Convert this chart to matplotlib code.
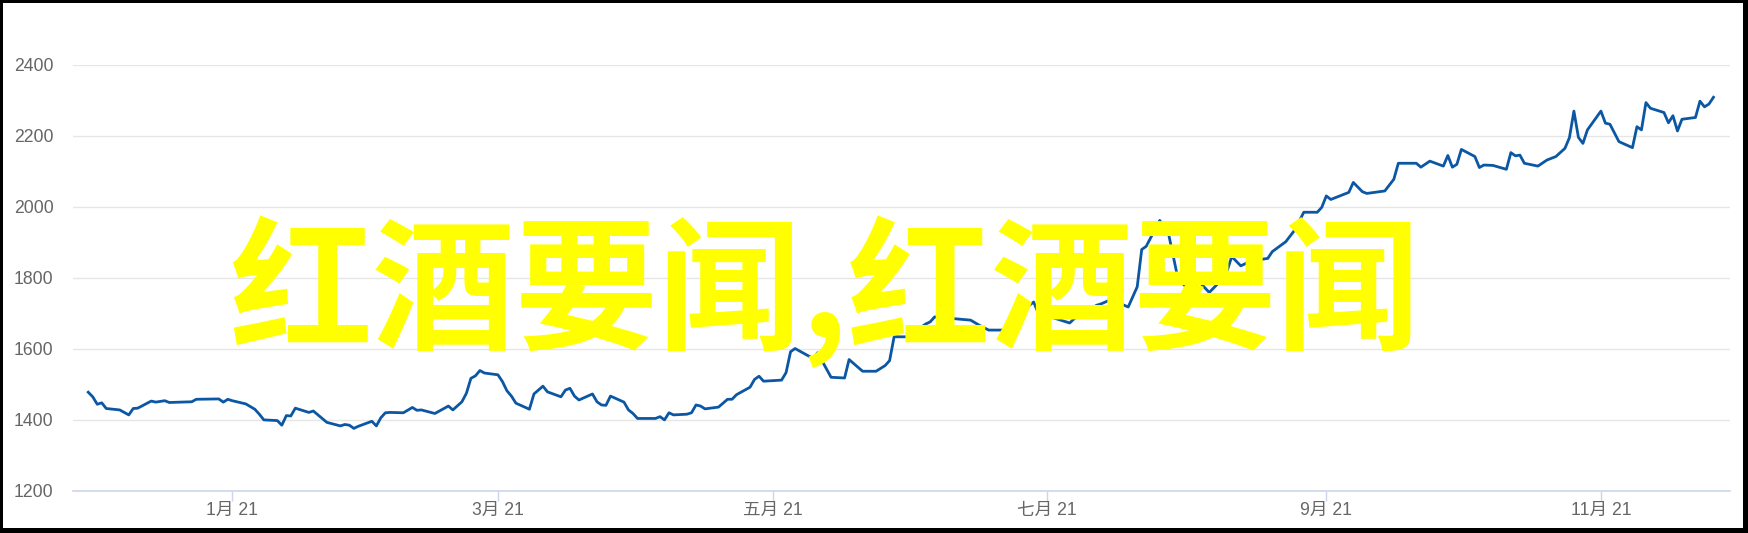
import matplotlib
matplotlib.use("Agg")
import matplotlib.pyplot as plt
from matplotlib.patches import Rectangle
import pandas as pd

# ---- data ----
# trading days, given as day offsets from 2021-01-01
day_offsets = [
    -32, -31, -30, -29, -28, -25, -24, -23, -22, -21, -18, -17, -15, -14, -9, -8,
    -3, -2, -1, 0, 3, 5, 6, 7, 10, 11, 12, 13, 14, 17, 18, 21, 24, 25, 26, 27, 28,
    31, 32, 33, 34, 35, 38, 40, 41, 42, 45, 48, 49, 51, 52, 53, 54, 55, 56, 59, 60,
    61, 62, 63, 66, 67, 69, 70, 73, 74, 75, 76, 77, 80, 81, 82, 83, 84, 87, 88, 89,
    90, 94, 95, 96, 97, 98, 101, 102, 103, 104, 105, 108, 110, 111, 112, 115, 116,
    117, 118, 122, 123, 124, 125, 129, 130, 133, 136, 137, 140, 143, 145, 146, 147,
    150, 154, 155, 156, 164, 166, 168, 171, 173, 176, 178, 179, 181, 183, 186, 187,
    189, 192, 193, 195, 197, 199, 201, 202, 203, 206, 208, 210, 212, 215, 217, 219,
    221, 222, 224, 226, 228, 230, 231, 234, 236, 238, 241, 242, 243, 244, 248, 249,
    251, 252, 256, 258, 259, 263, 264, 266, 269, 270, 271, 272, 273, 276, 277, 278,
    280, 283, 284, 285, 286, 287, 290, 292, 294, 296, 297, 298, 299, 300, 301, 304,
    305, 306, 308, 311, 312, 313, 314, 315, 318, 319, 320, 321, 322, 325, 326, 327,
    328, 329,
]
values = [
    1477, 1464, 1443, 1447, 1431, 1427, 1420, 1413, 1431, 1432, 1452, 1449, 1453, 1448, 1450, 1457,
    1458, 1449, 1457, 1453, 1444, 1429, 1415, 1399, 1397, 1384, 1411, 1410, 1432, 1420, 1424, 1392, 1382, 1386, 1384, 1375, 1381,
    1395, 1382, 1405, 1419, 1420, 1419, 1434, 1426, 1427, 1417, 1438, 1427, 1450, 1474, 1516, 1523, 1538, 1531, 1526, 1507,
    1481, 1466, 1446, 1429, 1472, 1494, 1478, 1464, 1483, 1488, 1466, 1455, 1472, 1450, 1441, 1440, 1466, 1449, 1427, 1417,
    1403, 1403, 1408, 1399, 1419, 1413, 1415, 1419, 1441, 1438, 1430, 1435, 1457, 1457, 1470, 1491, 1513,
    1522, 1508, 1511, 1532, 1591, 1600, 1572, 1588, 1519, 1517, 1569, 1536, 1536, 1552, 1566, 1633,
    1633, 1669, 1675, 1689, 1680, 1665, 1652, 1652, 1662, 1712, 1731, 1700, 1692, 1684, 1672, 1684,
    1700, 1722, 1726, 1737, 1728, 1717, 1774, 1879, 1888, 1961, 1921, 1800, 1771, 1785, 1758, 1784,
    1820, 1859, 1833, 1845, 1850, 1854, 1873, 1901, 1934, 1984, 1984, 1998, 2030, 2020, 2040, 2068,
    2042, 2037, 2044, 2077, 2122, 2122, 2111, 2128, 2114, 2144, 2111, 2119, 2161, 2141, 2110, 2117,
    2116, 2105, 2152, 2143, 2145, 2122, 2114, 2131, 2141, 2164, 2194, 2269, 2195, 2178, 2216, 2269,
    2235, 2232, 2183, 2166, 2225, 2216, 2293, 2277, 2265, 2236, 2256, 2213, 2246, 2251, 2297, 2281,
    2289, 2308,
]
tick_dates = ["2021-01-01", "2021-03-01", "2021-05-01", "2021-07-01", "2021-09-01", "2021-11-01"]
tick_labels = ["1月 21", "3月 21", "五月 21", "七月 21", "9月 21", "11月 21"]
y_ticks = [1200, 1400, 1600, 1800, 2000, 2200, 2400]
overlay_text = "红酒要闻,红酒要闻"

origin = pd.Timestamp("2021-01-01")
dates = origin + pd.to_timedelta(day_offsets, unit="D")

# ---- figure ----
W, H = 1748, 533
fig = plt.figure(figsize=(W / 100, H / 100), dpi=100)
fig.patch.set_facecolor("white")

ax_l, ax_r, ax_t, ax_b = 72.7, 1730, 64.6, 490.5
ax = fig.add_axes([ax_l / W, 1 - ax_b / H, (ax_r - ax_l) / W, (ax_b - ax_t) / H])
ax.set_facecolor("white")

ax.plot(dates, values, color="#0b57a4", lw=2.0, zorder=3, solid_joinstyle="round")

ax.set_ylim(1200, 2400)
ax.set_xlim(origin + pd.Timedelta(days=-35.45), origin + pd.Timedelta(days=332.67))

ax.set_yticks(y_ticks)
ax.set_yticklabels([str(v) for v in y_ticks])
ax.set_xticks(pd.to_datetime(tick_dates))
ax.set_xticklabels(tick_labels)

tick_font = ["Liberation Sans", "Noto Sans CJK SC", "DejaVu Sans"]
for lab in ax.get_xticklabels() + ax.get_yticklabels():
    lab.set_family(tick_font)
    lab.set_fontsize(12.7)
    lab.set_color("#666666")

ax.tick_params(axis="y", length=0, pad=13.7)
ax.tick_params(axis="x", length=7.5, width=1, color="#ccd6eb", pad=1.0, direction="out")

for s in ["left", "right", "top"]:
    ax.spines[s].set_visible(False)
ax.spines["bottom"].set_color("#ccd6eb")
ax.spines["bottom"].set_linewidth(1.2)

ax.grid(axis="y", color="#e6e6e6", lw=1.0)
ax.grid(axis="x", visible=False)
ax.set_axisbelow(True)

# big yellow overlay text
fig.text(825 / W, 1 - 292 / H, overlay_text, ha="center", va="center",
         fontsize=103, color="#ffff00", fontweight="bold",
         family=["Noto Sans CJK SC", "DejaVu Sans"], zorder=10)

# black frame around the picture
frame = [(0, 0, 3, H), (0, 0, W, 3), (W - 5, 0, 5, H), (0, H - 5, W, 5)]
for x0, y0, w, h in frame:
    fig.add_artist(Rectangle((x0 / W, 1 - (y0 + h) / H), w / W, h / H,
                             transform=fig.transFigure, color="black", lw=0, zorder=20))

fig.savefig("out.png", dpi=100, facecolor="white")
